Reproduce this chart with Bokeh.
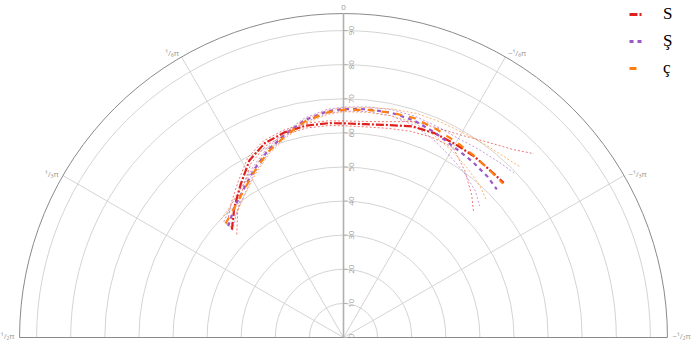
import numpy as np
from bokeh.plotting import figure
from bokeh.models import Legend, LegendItem, Range1d
from bokeh.core.properties import value
from bokeh.embed import file_html
from bokeh.resources import INLINE

# ---------------- data ----------------
theta_deg = [46, 40, 34, 28, 22, 16, 10, 4, 0, -6, -12, -18, -24, -30, -36, -42, -46]

red_mid = [45.5, 49.8, 54.0, 58.8, 61.5, 62.6, 63.1, 63.0, 62.8, 62.9, 63.7, 65.1, 65.6, 65.5, 65.5, 65.2, 65.3]
red_lo = [43.5, 48.3, 52.8, 57.8, 60.7, 61.9, 62.4, 62.3, 62.1, 62.1, 62.7, 63.6, 64.2, 64.3, 60.5, 56.2, 53.0]
red_hi = [47.5, 51.3, 55.2, 59.8, 62.3, 63.3, 63.8, 63.7, 63.5, 63.7, 64.7, 66.6, 67.3, 68.6, 71.0, 74.2, 77.6]

purple_mid = [47.0, 49.8, 52.4, 55.8, 59.2, 62.0, 64.8, 66.5, 67.0, 67.3, 67.4, 66.9, 65.8, 64.6, 64.0, 63.3, 62.5]
purple_lo = [45.2, 48.5, 51.4, 55.0, 58.5, 61.4, 64.2, 65.9, 66.4, 66.6, 66.5, 65.6, 63.9, 61.8, 60.0, 57.8, 55.5]
purple_hi = [48.8, 51.1, 53.4, 56.6, 59.9, 62.6, 65.4, 67.1, 67.6, 68.0, 68.3, 68.2, 67.7, 67.4, 68.0, 68.8, 69.5]

orange_mid = [48.1, 49.7, 52.2, 55.4, 58.8, 61.6, 64.4, 66.2, 66.8, 67.1, 67.4, 67.6, 66.9, 66.2, 65.6, 65.1, 65.0]
orange_lo = [46.3, 48.4, 51.2, 54.6, 58.1, 61.0, 63.8, 65.6, 66.2, 66.4, 66.5, 66.3, 65.0, 63.4, 61.6, 59.8, 58.2]
orange_hi = [49.9, 51.0, 53.2, 56.2, 59.5, 62.2, 65.0, 66.8, 67.4, 67.8, 68.5, 69.1, 69.3, 69.5, 70.2, 71.0, 72.0]

series_names = ["S", "Ş", "ç"]
series_colors = ["#e0201c", "#9b59c8", "#ff7f0e"]
series_dash = ["8 2 2 2", "4 4", "7 7"]

ring_values = [10, 20, 30, 40, 50, 60, 70, 80, 90]
radial_labels = ["0", "10", "20", "30", "40", "50", "60", "70", "80", "90"]
radial_label_values = [0, 10, 20, 30, 40, 50, 60, 70, 80, 90]
r_max = 95
spoke_deg = [60, 30, -30, -60]
angle_tick_deg = [90, 60, 30, 0, -30, -60, -90]
angle_tick_labels = ["¹/₂π", "¹/₃π", "¹/₆π", "0", "−¹/₆π", "−¹/₃π", "−¹/₂π"]

# ---------------- layout ----------------
W, H = 695, 341
s = 3.41          # px per radial unit
cx, cy = 343, 337  # pixel position of the pole

p = figure(width=W, height=H, output_backend="svg", toolbar_location=None,
           x_axis_location=None, y_axis_location=None, min_border=0,
           x_range=Range1d(-cx / s, (W - cx) / s), y_range=Range1d(-(H - cy) / s, cy / s))
p.outline_line_color = None
p.grid.visible = False
p.background_fill_color = "white"


def polar(r, deg):
    t = np.radians(np.asarray(deg, dtype=float))
    r = np.asarray(r, dtype=float)
    return -r * np.sin(t), r * np.cos(t)


# rings
p.arc(x=[0] * len(ring_values), y=[0] * len(ring_values), radius=ring_values,
      start_angle=0, end_angle=np.pi, line_color="#d4d4d4", line_width=1)
# spokes
for d in spoke_deg:
    xs, ys = polar([0, r_max], [d, d])
    p.line(xs, ys, line_color="#d4d4d4", line_width=1)
# outer arc and baseline
p.arc(x=[0], y=[0], radius=[r_max], start_angle=0, end_angle=np.pi,
      line_color="#8a8a8a", line_width=1)
p.line([-r_max, r_max], [0, 0], line_color="#8a8a8a", line_width=1)
# radial axis
p.line([0, 0], [0, r_max], line_color="#b0b0b0", line_width=1.6)
tick_len = 1.2
p.segment(x0=[0] * len(radial_label_values), y0=radial_label_values,
          x1=[tick_len] * len(radial_label_values), y1=radial_label_values,
          line_color="#b0b0b0", line_width=1)
label_y = [v + (1.5 / s if v == 0 else 0) for v in radial_label_values]
p.text(x=[8 / s] * len(radial_labels), y=label_y, text=radial_labels,
       angle=np.pi / 2, text_align="center", text_baseline="middle",
       text_font=value("Open Sans"), text_font_size="8px", text_color="#9a9a9a")

# angular tick labels
for d, lab in zip(angle_tick_deg, angle_tick_labels):
    if d == 0:
        xs, ys = polar([r_max + 4 / s], [d])
        align, base = "center", "bottom"
    else:
        xs, ys = polar([r_max + 5 / s], [d])
        align, base = ("right" if d > 0 else "left"), "middle"
        if abs(d) == 90:
            ys = ys + 2.5 / s
    p.text(x=xs, y=ys, text=[lab], text_align=align, text_baseline=base,
           text_font=value("Open Sans"), text_font_size="8px", text_color="#9a9a9a")

# series
series = [(red_mid, red_lo, red_hi), (purple_mid, purple_lo, purple_hi),
          (orange_mid, orange_lo, orange_hi)]
mains = []
for (mid, lo, hi), col in zip(series, series_colors):
    for band in (lo, hi):
        bx, by = polar(band, theta_deg)
        p.line(bx, by, line_color=col, line_width=1, line_dash="2 2", line_alpha=0.6)
for (mid, lo, hi), col, dash in zip(series, series_colors, series_dash):
    mx, my = polar(mid, theta_deg)
    r = p.line(mx, my, line_color=col, line_width=2.2, line_dash=dash)
    mains.append(r)

# legend keys drawn a little thicker, as in the reference
legend_keys = []
for col, dash in zip(series_colors, series_dash):
    legend_keys.append(p.line([np.nan], [np.nan], line_color=col, line_width=3, line_dash=dash))

legend_h = 3 * 20 + 2 * 7
legend = Legend(items=[LegendItem(label=n, renderers=[r]) for n, r in zip(series_names, legend_keys)],
                location=(629, H - 4 - legend_h), orientation="vertical",
                glyph_width=14, glyph_height=20, label_height=20, label_standoff=20,
                spacing=7, padding=0, margin=0,
                border_line_color=None, background_fill_alpha=0,
                label_text_font="'Liberation Serif', 'Times New Roman', serif",
                label_text_font_size="17px", label_text_color="black")
p.add_layout(legend)

open("out.html", "w").write(file_html(p, INLINE))
